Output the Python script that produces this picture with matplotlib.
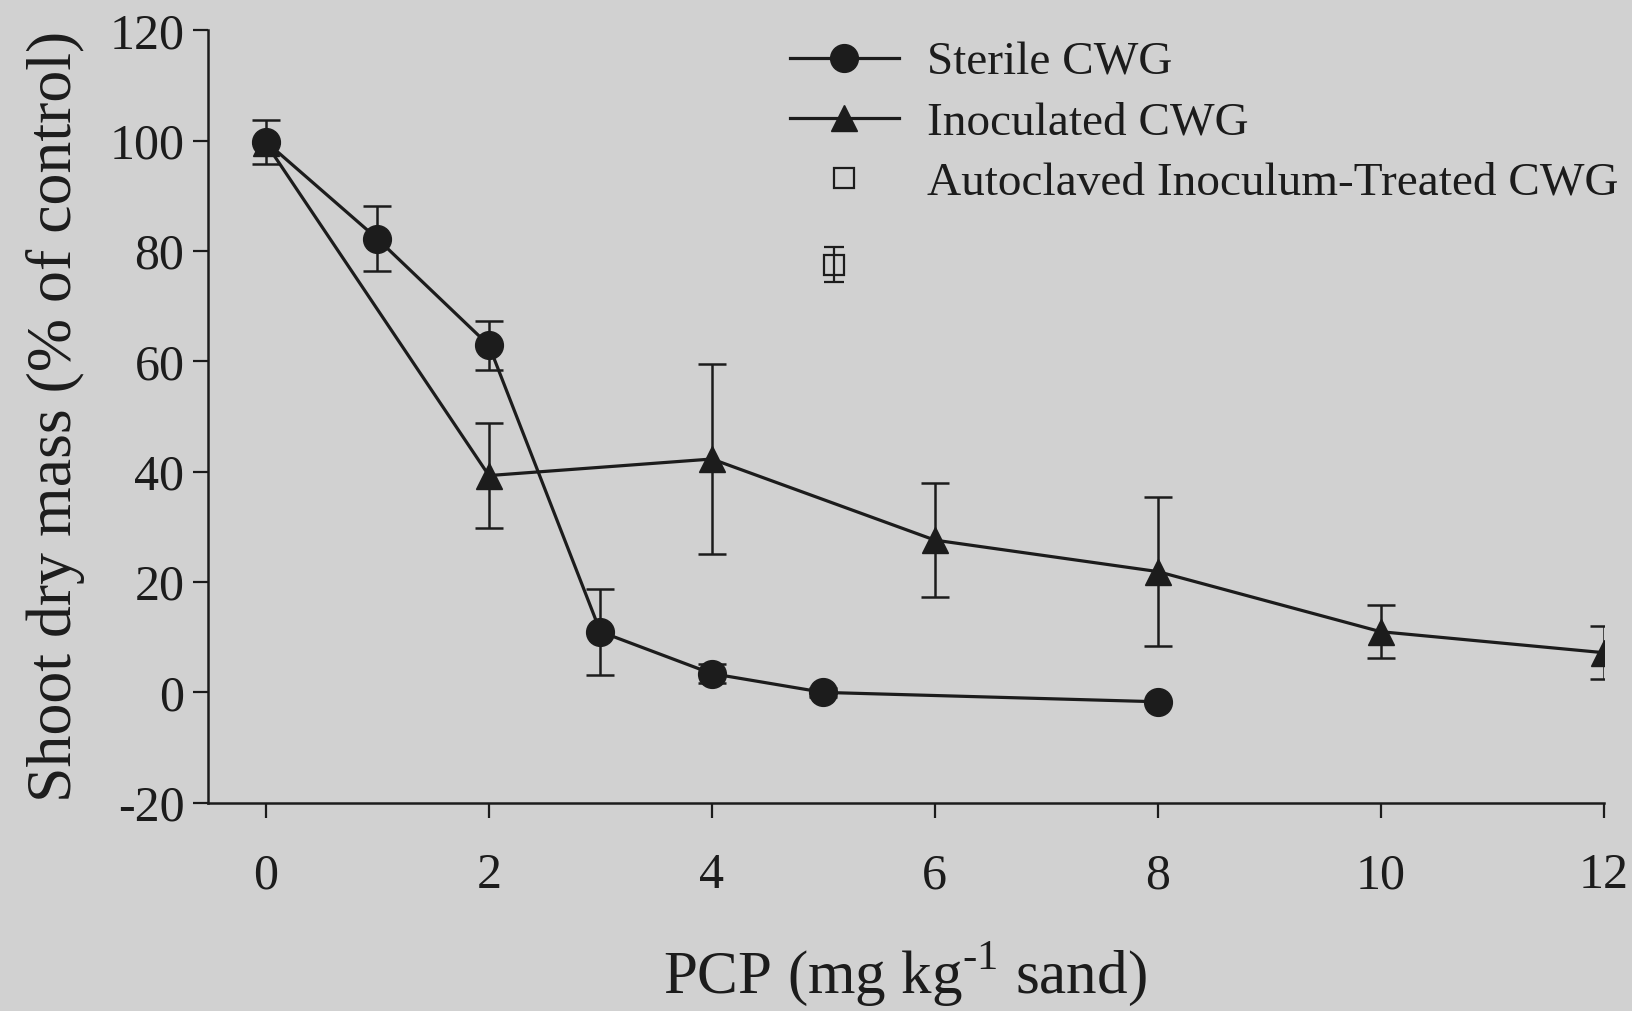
import numpy as np
import matplotlib
matplotlib.use('Agg')
import matplotlib.pyplot as plt
from matplotlib.lines import Line2D

# data
pcp_sterile = [0, 1, 2, 3, 4, 5, 8]
sterile = [99.8, 82.2, 62.9, 11.0, 3.4, 0.0, -1.7]
sterile_err = [4.0, 5.9, 4.4, 7.8, 1.7, 0.8, 0.0]

pcp_inoc = [0, 2, 4, 6, 8, 10, 12]
inoculated = [99.5, 39.3, 42.3, 27.6, 21.9, 11.0, 7.2]
inoculated_err = [0.0, 9.5, 17.2, 10.3, 13.5, 4.8, 4.8]

pcp_auto = [5.1]
autoclaved = [77.5]
autoclaved_err = [3.2]

x_ticks = [0, 2, 4, 6, 8, 10, 12]
y_ticks = [-20, 0, 20, 40, 60, 80, 100, 120]
labels = ['Sterile CWG', 'Inoculated CWG', 'Autoclaved Inoculum-Treated CWG']

plt.rcParams['font.family'] = ['Liberation Serif', 'DejaVu Serif']
plt.rcParams['mathtext.fontset'] = 'custom'
plt.rcParams['mathtext.rm'] = 'Liberation Serif'
plt.rcParams['axes.unicode_minus'] = False

bg = '#d1d1d1'
ink = '#1c1c1c'

fig = plt.figure(figsize=(16.33, 10.11), dpi=100, facecolor=bg)
ax = fig.add_axes([0.1274, 0.206, 0.8546, 0.764])
ax.set_facecolor(bg)

ax.errorbar(pcp_sterile, sterile, yerr=sterile_err, color=ink, lw=2.3,
            marker='o', ms=20, mfc=ink, mec=ink, elinewidth=1.8,
            capsize=10, capthick=1.8, zorder=3)
ax.errorbar(pcp_inoc, inoculated, yerr=inoculated_err, color=ink, lw=2.3,
            marker='^', ms=19, mfc=ink, mec=ink, elinewidth=1.8,
            capsize=10, capthick=1.8, zorder=3)
ax.errorbar(pcp_auto, autoclaved, yerr=autoclaved_err, color=ink, ls='none',
            marker='s', ms=14, mfc='none', mec=ink, mew=1.6, elinewidth=1.6,
            capsize=7, capthick=1.6, zorder=3)

ax.set_xlim(-0.52, 12)
ax.set_ylim(-20, 120)
ax.set_xticks(x_ticks)
ax.set_yticks(y_ticks)

for s in ['top', 'right']:
    ax.spines[s].set_visible(False)
for s in ['left', 'bottom']:
    ax.spines[s].set_linewidth(1.8)
    ax.spines[s].set_color(ink)

ax.tick_params(axis='both', direction='out', length=11, width=1.6,
               color=ink, labelcolor=ink, labelsize=36)
ax.tick_params(axis='x', pad=25)
ax.tick_params(axis='y', pad=6)

ax.set_ylabel('Shoot dry mass (% of control)', fontsize=46, color=ink)
ax.yaxis.set_label_coords(-0.088, 0.5)
ax.set_xlabel('PCP (mg kg$^{\\text{-}1}$ sand)', fontsize=44, color=ink)
ax.xaxis.set_label_coords(0.499, -0.178)

handles = [
    Line2D([], [], color=ink, lw=2.3, marker='o', ms=20, mfc=ink, mec=ink),
    Line2D([], [], color=ink, lw=2.3, marker='^', ms=19, mfc=ink, mec=ink),
    Line2D([], [], ls='none', marker='s', ms=14, mfc='none', mec=ink, mew=1.6),
]
ax.legend(handles, labels, loc='upper left',
          bbox_to_anchor=(790 / 1633, 1 - 41 / 1011),
          bbox_transform=fig.transFigure, frameon=False, fontsize=34,
          handlelength=2.3, handletextpad=0.6, labelspacing=0.36,
          borderpad=0, borderaxespad=0, labelcolor=ink)

plt.savefig('out.png', dpi=100, facecolor=bg)
